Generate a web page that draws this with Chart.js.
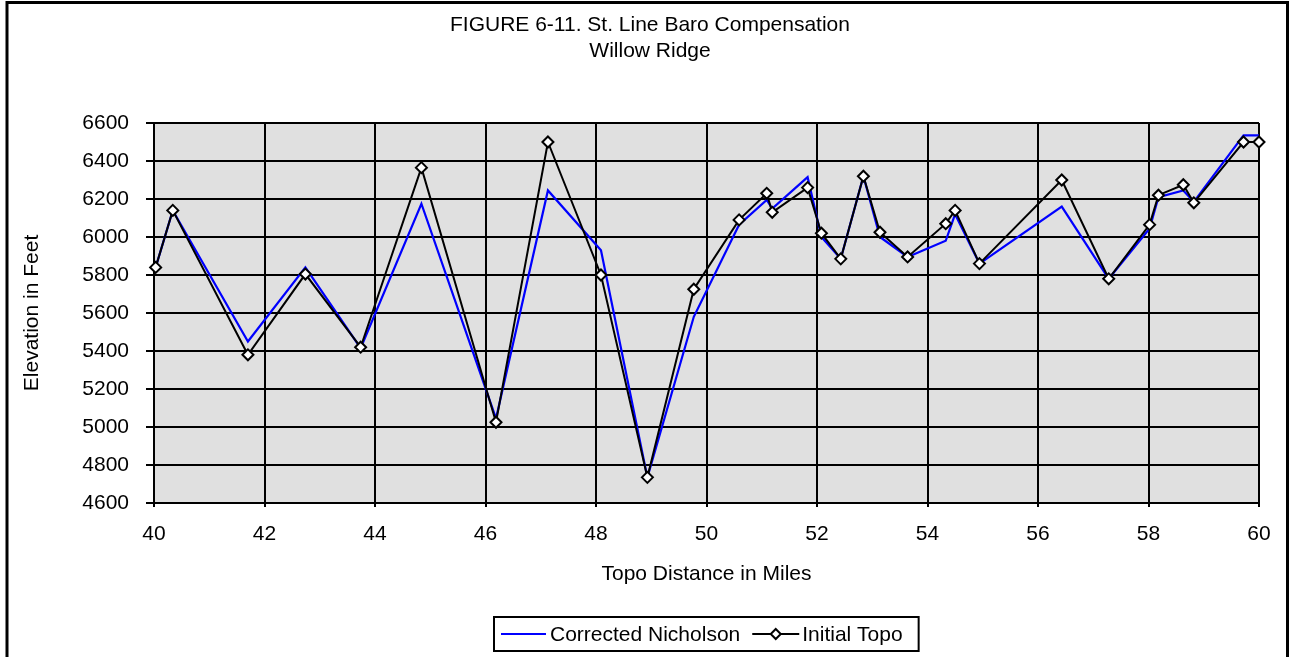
<!DOCTYPE html>
<html>
<head>
<meta charset="utf-8">
<title>FIGURE 6-11. St. Line Baro Compensation</title>
<script src="https://cdn.jsdelivr.net/npm/chart.js@4/dist/chart.umd.min.js"></script>
<style>
  html, body { margin: 0; padding: 0; background: #fff; }
  canvas { display: block; }
</style>
</head>
<body>
<canvas id="baroChart" width="1291" height="657"></canvas>
<script>
// values (miles / feet)
const distance = [40.03, 40.34, 41.70, 42.74, 43.74, 44.84, 46.19, 47.13, 48.09, 48.93,
  49.77, 50.59, 51.09, 51.19, 51.83, 52.08, 52.43, 52.84, 53.14, 53.64,
  54.33, 54.50, 54.94, 56.43, 57.28, 58.02, 58.18, 58.63, 58.82, 59.72, 60.00];
const initialTopo = [5840, 6140, 5380, 5805, 5420, 6365, 5025, 6500, 5800, 4735,
  5725, 6090, 6230, 6130, 6260, 6020, 5885, 6320, 6025, 5895,
  6070, 6140, 5860, 6300, 5780, 6065, 6220, 6275, 6180, 6500, 6500];
const correctedNicholson = [5840, 6140, 5450, 5840, 5415, 6175, 5045, 6245, 5930, 4735,
  5580, 6065, 6195, 6150, 6315, 6000, 5885, 6320, 6000, 5895,
  5980, 6120, 5860, 6160, 5780, 6045, 6210, 6245, 6185, 6535, 6535];
const titleLines = ["FIGURE 6-11. St. Line Baro Compensation", "Willow Ridge"];
const xTitle = "Topo Distance in Miles";
const yTitle = "Elevation in Feet";

const FONT = "'Liberation Sans', Arial, Helvetica, sans-serif";

function toPoints(xs, ys) {
  return xs.map((x, i) => ({ x: x, y: ys[i] }));
}

function diamond(ctx, x, y, r) {
  ctx.beginPath();
  ctx.moveTo(x, y - r);
  ctx.lineTo(x + r, y);
  ctx.lineTo(x, y + r);
  ctx.lineTo(x - r, y);
  ctx.closePath();
  ctx.fillStyle = "#fff";
  ctx.fill();
  ctx.lineWidth = 2;
  ctx.strokeStyle = "#000";
  ctx.stroke();
}

// plot background, outer frame and the boxed legend
const framePlugin = {
  id: "frame",
  beforeDraw(chart) {
    const { ctx, chartArea: a } = chart;
    ctx.save();
    ctx.fillStyle = "#fff";
    ctx.fillRect(0, 0, chart.width, chart.height);
    ctx.fillStyle = "#e0e0e0";
    ctx.fillRect(a.left, a.top, a.right - a.left, a.bottom - a.top);
    ctx.restore();
  },
  afterDraw(chart) {
    const { ctx, chartArea: a } = chart;
    ctx.save();
    ctx.lineWidth = 3;
    ctx.strokeStyle = "#000";
    ctx.strokeRect(7, 2.5, 1280.5, 700);

    // legend
    ctx.font = "21px " + FONT;
    const sets = chart.data.datasets;
    const w1 = ctx.measureText(sets[1].label).width;
    const w2 = ctx.measureText(sets[0].label).width;
    const boxW = 7 + 45 + 4 + w1 + 12 + 47 + 3 + w2 + 16;
    const boxL = Math.round((a.left + a.right) / 2 - boxW / 2);
    const boxT = 617, boxH = 34, midY = boxT + boxH / 2;
    ctx.fillStyle = "#fff";
    ctx.fillRect(boxL, boxT, boxW, boxH);
    ctx.lineWidth = 2;
    ctx.strokeRect(boxL, boxT, boxW, boxH);

    let x = boxL + 7;
    ctx.strokeStyle = sets[1].borderColor;
    ctx.beginPath();
    ctx.moveTo(x, midY);
    ctx.lineTo(x + 45, midY);
    ctx.stroke();
    x += 49;
    ctx.fillStyle = "#000";
    ctx.textBaseline = "middle";
    ctx.textAlign = "left";
    ctx.fillText(sets[1].label, x, midY + 1);
    x += w1 + 12;
    ctx.strokeStyle = sets[0].borderColor;
    ctx.beginPath();
    ctx.moveTo(x, midY);
    ctx.lineTo(x + 47, midY);
    ctx.stroke();
    diamond(ctx, x + 23.5, midY, 5);
    x += 50;
    ctx.fillStyle = "#000";
    ctx.fillText(sets[0].label, x, midY + 1);
    ctx.restore();
  }
};

const ctx = document.getElementById("baroChart").getContext("2d");
new Chart(ctx, {
  type: "line",
  data: {
    datasets: [
      {
        label: "Initial Topo",
        data: toPoints(distance, initialTopo),
        borderColor: "#000",
        borderWidth: 2,
        pointStyle: "rectRot",
        pointRadius: 5.5,
        pointBorderWidth: 2,
        pointBorderColor: "#000",
        pointBackgroundColor: "#fff",
        tension: 0,
        clip: false,
        order: 0
      },
      {
        label: "Corrected Nicholson",
        data: toPoints(distance, correctedNicholson),
        borderColor: "#0000ff",
        borderWidth: 2.2,
        pointRadius: 0,
        tension: 0,
        clip: false,
        order: 1
      }
    ]
  },
  options: {
    responsive: false,
    animation: false,
    events: [],
    layout: { padding: { left: 41, right: 32, top: 0, bottom: 54 } },
    plugins: {
      legend: { display: false },
      tooltip: { enabled: false },
      title: {
        display: true,
        text: titleLines,
        color: "#000",
        font: { family: FONT, size: 21, weight: "normal", lineHeight: 1.25 },
        padding: { top: 12, bottom: 58.5 }
      }
    },
    scales: {
      x: {
        type: "linear",
        min: 40,
        max: 60,
        afterFit(scale) { scale.height = 100; },
        ticks: {
          stepSize: 2,
          padding: 15,
          color: "#000",
          font: { family: FONT, size: 21 },
          maxRotation: 0,
          callback: (v) => v
        },
        grid: { color: "#000", lineWidth: 2, tickLength: 4 },
        border: { color: "#000", width: 2 },
        title: {
          display: true,
          text: xTitle,
          color: "#000",
          font: { family: FONT, size: 21, lineHeight: 1.25 },
          padding: { top: 0, bottom: 16 }
        }
      },
      y: {
        min: 4600,
        max: 6600,
        afterFit(scale) { scale.width = 113; },
        ticks: {
          stepSize: 200,
          padding: 17,
          color: "#000",
          font: { family: FONT, size: 21 },
          callback: (v) => v
        },
        grid: { color: "#000", lineWidth: 2, tickLength: 8 },
        border: { color: "#000", width: 2 },
        title: {
          display: true,
          text: yTitle,
          color: "#000",
          font: { family: FONT, size: 21, lineHeight: 1.25 },
          padding: { top: -22, bottom: 0 }
        }
      }
    }
  },
  plugins: [framePlugin]
});
</script>
</body>
</html>
